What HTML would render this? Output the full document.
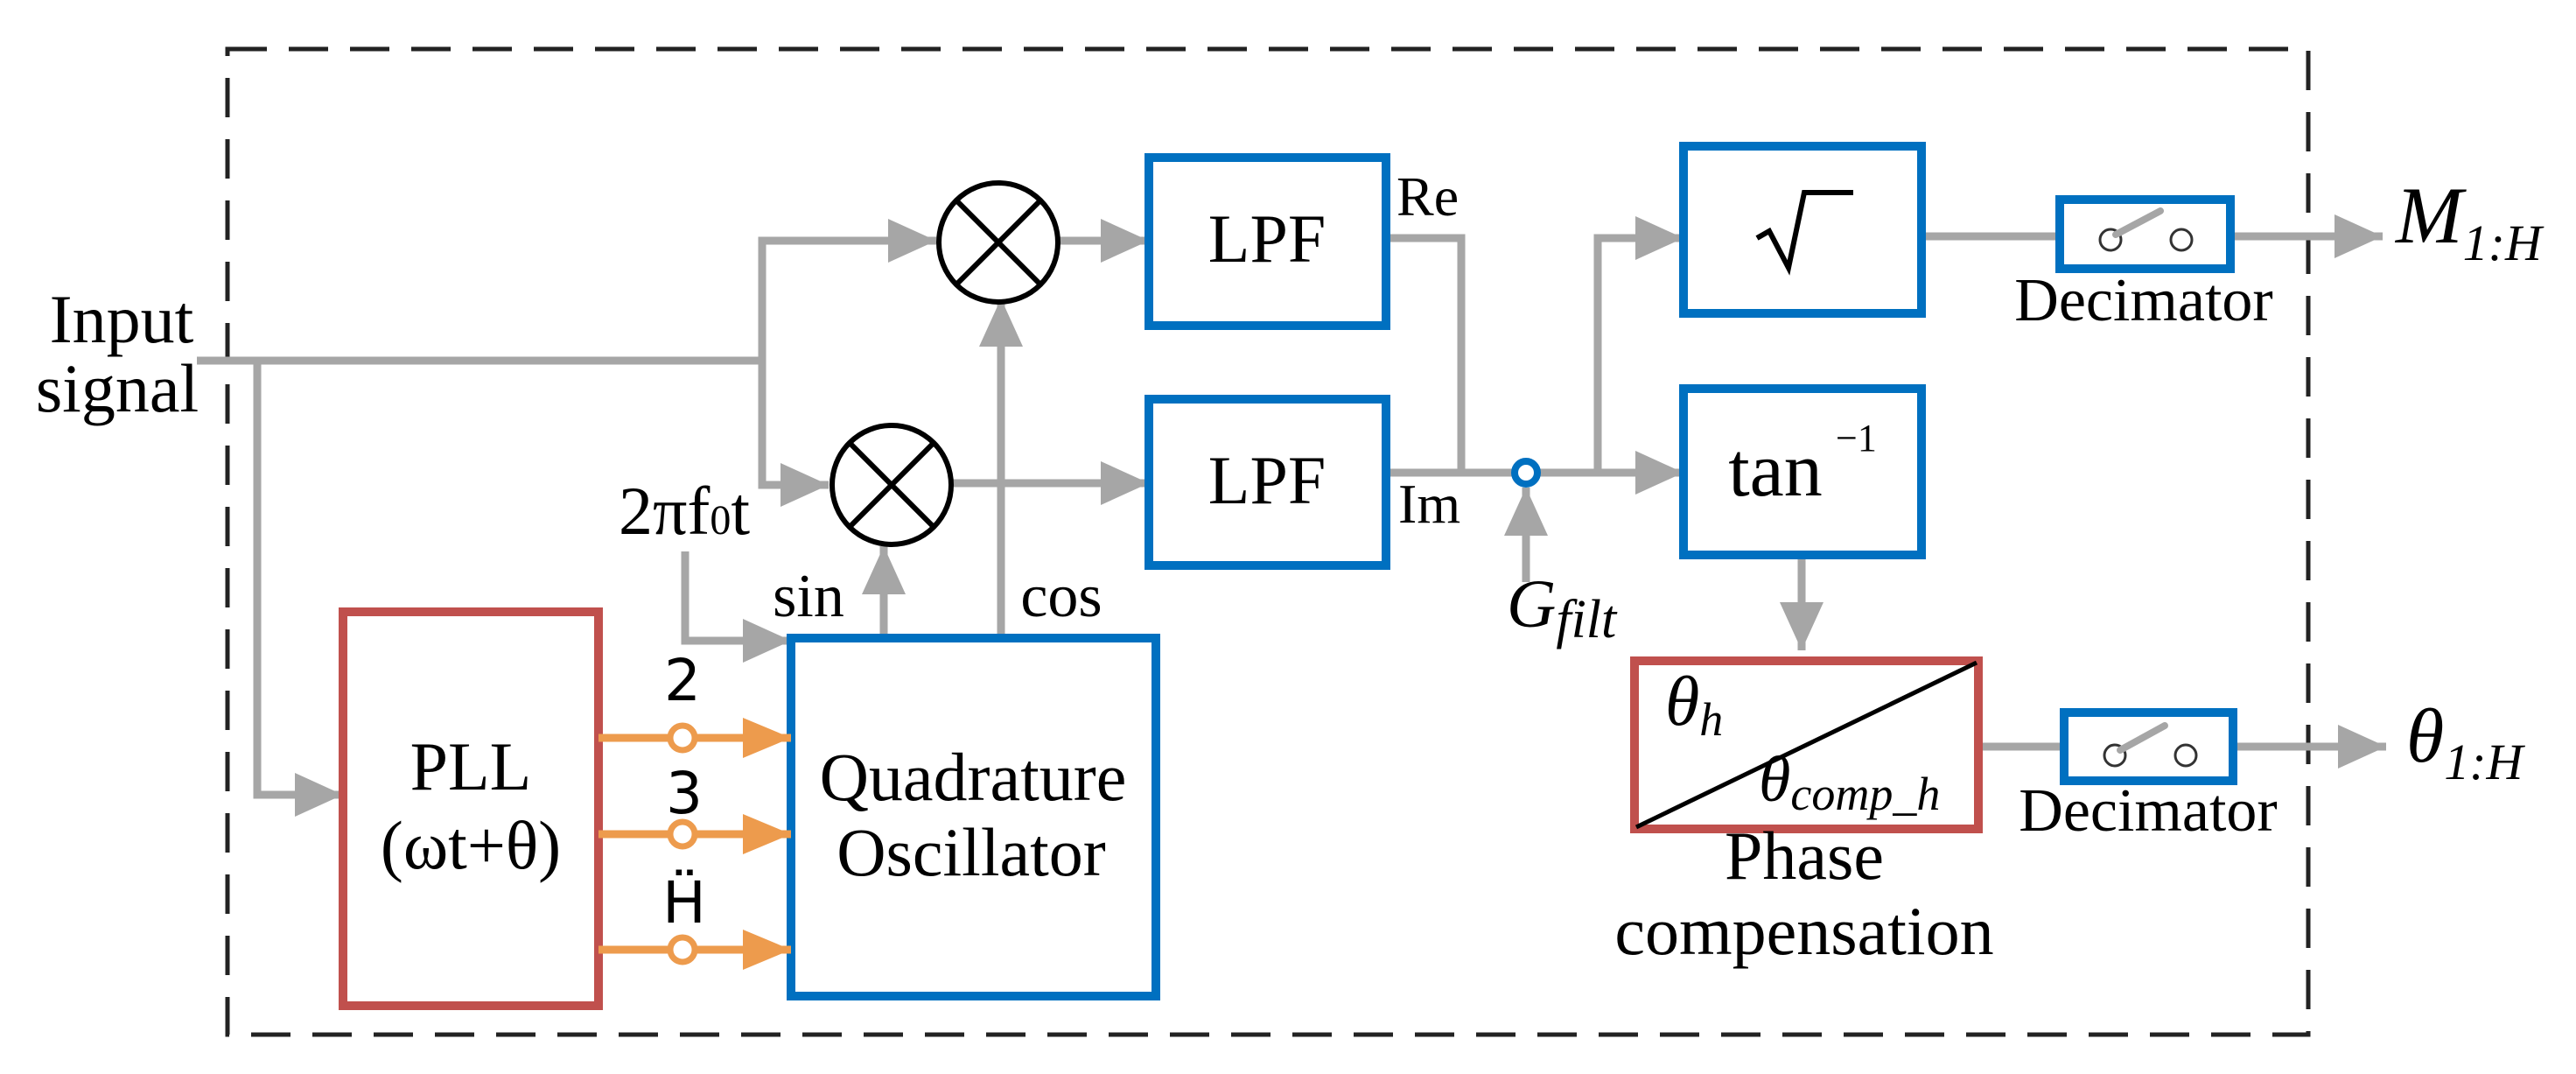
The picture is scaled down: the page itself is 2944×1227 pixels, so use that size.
<!DOCTYPE html>
<html><head><meta charset="utf-8"><style>
html,body{margin:0;padding:0;background:#fff}
svg{display:block}
text{font-family:"Liberation Serif",serif;fill:#000}
.s{font-family:"DejaVu Sans","Liberation Sans",sans-serif}
</style></head><body>
<svg width="2944" height="1227" viewBox="0 0 2944 1227" xmlns="http://www.w3.org/2000/svg">
<defs>
<marker id="g" markerUnits="userSpaceOnUse" markerWidth="56" markerHeight="50" refX="55" refY="25" orient="auto"><path d="M0,0 L55,25 L0,50 z" fill="#a6a6a6"/></marker>
<marker id="o" markerUnits="userSpaceOnUse" markerWidth="56" markerHeight="50" refX="55" refY="25" orient="auto"><path d="M0,2 L55,25 L0,48 z" fill="#ed9b4d"/></marker>
</defs>
<rect x="260" y="56" width="2378" height="1126" fill="none" stroke="#222" stroke-width="5" stroke-dasharray="45,25"/>

<g fill="none" stroke="#a6a6a6" stroke-width="9">
<polyline points="225,412 871,412"/>
<polyline points="294,412 294,908 392,908" marker-end="url(#g)"/>
<polyline points="871,554 871,275 1070,275" marker-end="url(#g)"/>
<polyline points="871,412 871,554 947,554" marker-end="url(#g)"/>
<polyline points="1211,275 1313,275" marker-end="url(#g)"/>
<polyline points="1089,552 1313,552" marker-end="url(#g)"/>
<polyline points="1144,729 1144,341" marker-end="url(#g)"/>
<polyline points="1010,729 1010,624" marker-end="url(#g)"/>
<polyline points="783,630 783,732 904,732" marker-end="url(#g)"/>
<polyline points="1584,272 1670,272 1670,540"/>
<polyline points="1584,540 1728,540"/>
<polyline points="1760,540 1924,540" marker-end="url(#g)"/>
<polyline points="1826,540 1826,272 1924,272" marker-end="url(#g)"/>
<polyline points="1744,665 1744,557" marker-end="url(#g)"/>
<polyline points="2059,634 2059,743" marker-end="url(#g)"/>
<polyline points="2196,270 2354,270"/>
<polyline points="2549,270 2723,270" marker-end="url(#g)"/>
<polyline points="2261,853 2359,853"/>
<polyline points="2552,853 2727,853" marker-end="url(#g)"/>
</g>

<g fill="#fff" stroke="#000" stroke-width="6">
<circle cx="1141" cy="277" r="68"/>
<circle cx="1019" cy="554" r="68"/>
</g>
<g stroke="#000" stroke-width="6">
<line x1="1093" y1="229" x2="1189" y2="325"/><line x1="1189" y1="229" x2="1093" y2="325"/>
<line x1="971" y1="506" x2="1067" y2="602"/><line x1="1067" y1="506" x2="971" y2="602"/>
</g>

<g fill="#fff" stroke="#0070c0" stroke-width="10">
<rect x="1313" y="180" width="271" height="192"/>
<rect x="1313" y="456" width="271" height="190"/>
<rect x="904" y="729" width="417" height="409"/>
<rect x="1924" y="167" width="272" height="191"/>
<rect x="1924" y="444" width="272" height="190"/>
<rect x="2354" y="228" width="195" height="79"/>
<rect x="2359" y="814" width="193" height="78"/>
</g>
<circle cx="1744" cy="540" r="13" fill="#fff" stroke="#0070c0" stroke-width="8"/>

<g fill="#fff" stroke="#333" stroke-width="3">
<circle cx="2412" cy="274" r="12"/><circle cx="2493" cy="274" r="12"/>
<circle cx="2417" cy="863" r="12"/><circle cx="2498" cy="863" r="12"/>
</g>
<g stroke="#a6a6a6" stroke-width="8" stroke-linecap="round">
<line x1="2418" y1="268" x2="2469" y2="241"/>
<line x1="2423" y1="857" x2="2474" y2="829"/>
</g>

<rect x="392" y="699" width="292" height="450" fill="#fff" stroke="#c0504d" stroke-width="10"/>
<rect x="1868" y="755" width="393" height="192" fill="#fff" stroke="#c0504d" stroke-width="10"/>
<line x1="1870" y1="945" x2="2259" y2="757" stroke="#000" stroke-width="5"/>

<g stroke="#ed9b4d" stroke-width="9" fill="none">
<line x1="684" y1="843" x2="904" y2="843" marker-end="url(#o)"/>
<line x1="684" y1="953" x2="904" y2="953" marker-end="url(#o)"/>
<line x1="684" y1="1085" x2="904" y2="1085" marker-end="url(#o)"/>
</g>
<g fill="#fff" stroke="#ed9b4d" stroke-width="7">
<circle cx="780" cy="843" r="14"/><circle cx="780" cy="953" r="14"/><circle cx="780" cy="1085" r="14"/>
</g>

<polyline points="2008,272 2022,264 2044,306 2062,220 2118,220" fill="none" stroke="#000" stroke-width="6"/>

<g font-size="78" text-anchor="middle">
<text x="139" y="391">Input</text>
<text x="134" y="470">signal</text>
<text x="1448" y="299">LPF</text>
<text x="1448" y="575">LPF</text>
<text x="538" y="902">PLL</text>
<text x="538" y="992">(ωt+θ)</text>
<text x="1112" y="914">Quadrature</text>
<text x="1110" y="1000">Oscillator</text>
<text x="782" y="610">2πf<tspan font-size="48">0</tspan>t</text>
<text x="2062" y="1004">Phase</text>
<text x="2062" y="1090">compensation</text>
</g>
<g font-size="70" text-anchor="middle">
<text x="2450" y="366">Decimator</text>
<text x="2455" y="949">Decimator</text>
<text x="924" y="704">sin</text>
<text x="1213" y="704">cos</text>
</g>
<text x="1596" y="246" font-size="64">Re</text>
<text x="1598" y="597" font-size="64">Im</text>
<text x="2029" y="566" font-size="88" text-anchor="middle">tan</text>
<text x="2098" y="515" font-size="44">−1</text>
<text x="1722" y="716" font-size="78" font-style="italic">G<tspan font-size="62" dy="12">filt</tspan></text>
<text x="1903" y="828" font-size="80" font-style="italic">θ<tspan font-size="54" dy="12">h</tspan></text>
<text x="2010" y="915" font-size="74" font-style="italic">θ<tspan font-size="54" dy="10">comp_h</tspan></text>
<text x="2738" y="277" font-size="92" font-style="italic">M<tspan font-size="58" dy="20">1:H</tspan></text>
<text x="2750" y="870" font-size="88" font-style="italic">θ<tspan font-size="58" dy="20">1:H</tspan></text>
<g class="s" font-size="66" text-anchor="middle">
<text class="s" x="780" y="800">2</text>
<text class="s" x="782" y="929">3</text>
<text class="s" x="782" y="1054">Ḧ</text>
</g>
</svg>
</body></html>
